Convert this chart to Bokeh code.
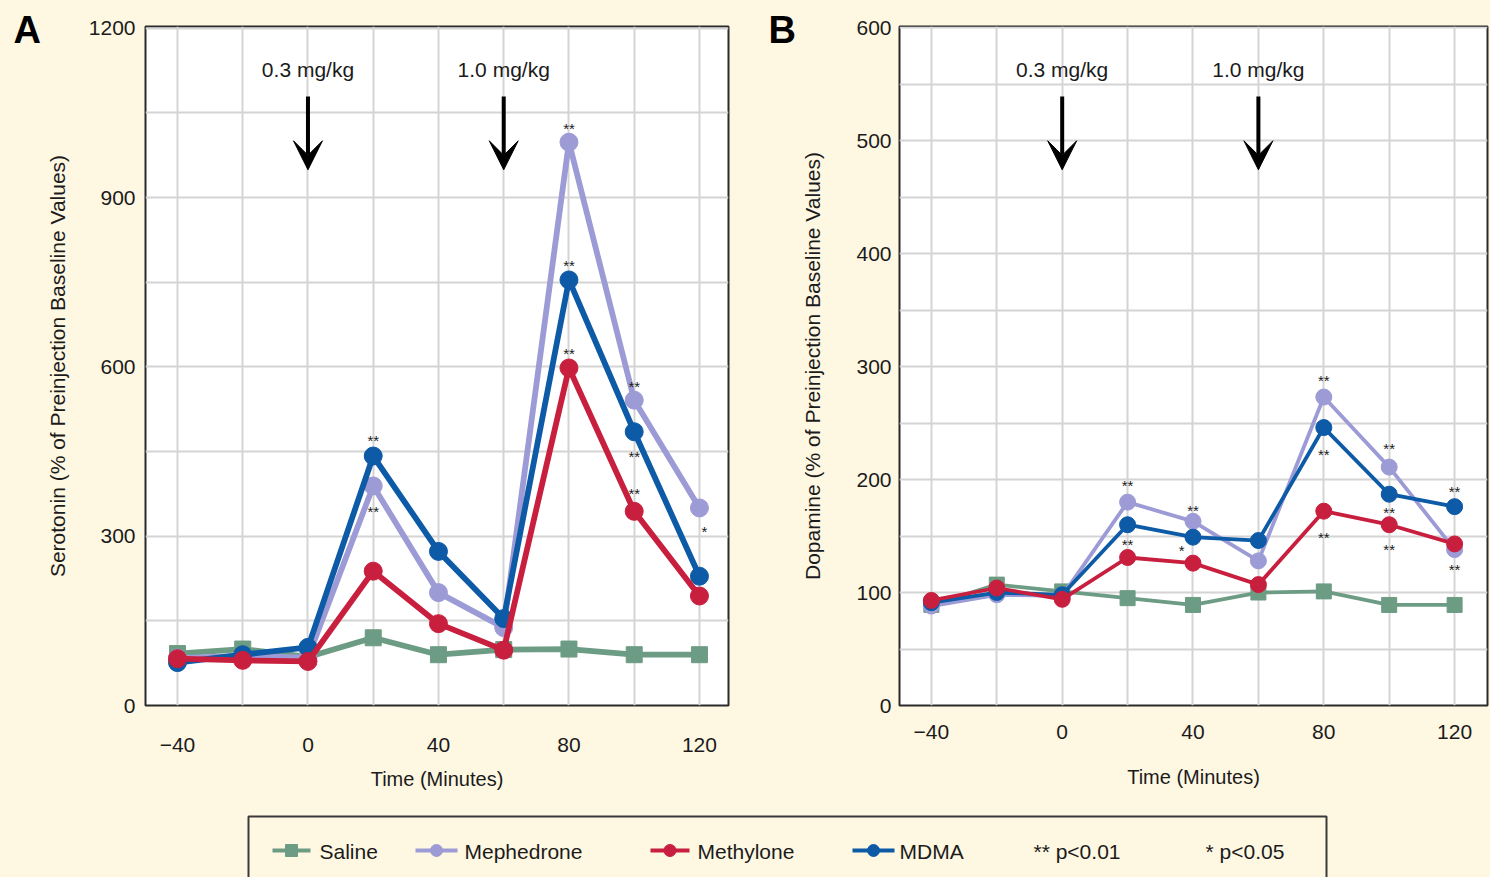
from bokeh.plotting import figure
from bokeh.models import Range1d, FixedTicker, Arrow, VeeHead, Spacer
from bokeh.layouts import column, row
from bokeh.embed import file_html
from bokeh.resources import INLINE
from bokeh.core.properties import value

# ---------------- data ----------------
times = [-40, -20, 0, 20, 40, 60, 80, 100, 120]
x_tick_labels = [-40, 0, 40, 80, 120]
x_grid_vals = [-40, -20, 0, 20, 40, 60, 80, 100, 120]

series_names = ["Saline", "Mephedrone", "Methylone", "MDMA"]
series_colors = ["#6D9C84", "#9D9BD6", "#C81F3F", "#0D5AA6"]
series_markers = ["square", "circle", "circle", "circle"]
draw_order = ["Saline", "Mephedrone", "MDMA", "Methylone"]

serotonin_saline = [92, 100, 86, 120, 90, 99, 100, 90, 90]
serotonin_mephedrone = [84, 88, 85, 389, 200, 138, 998, 541, 350]
serotonin_methylone = [83, 80, 78, 238, 145, 98, 598, 344, 194]
serotonin_mdma = [76, 90, 103, 442, 273, 154, 754, 485, 229]

dopamine_saline = [89, 107, 101, 95, 89, 100, 101, 89, 89]
dopamine_mephedrone = [88, 98, 97, 180, 163, 128, 273, 211, 138]
dopamine_methylone = [93, 104, 94, 131, 126, 107, 172, 160, 143]
dopamine_mdma = [91, 100, 98, 160, 149, 146, 246, 187, 176]

serotonin_y_ticks = [0, 300, 600, 900, 1200]
serotonin_y_grid = [0, 150, 300, 450, 600, 750, 900, 1050, 1200]
dopamine_y_ticks = [0, 100, 200, 300, 400, 500, 600]
dopamine_y_grid = [0, 50, 100, 150, 200, 250, 300, 350, 400, 450, 500, 550, 600]

dose_times = [0, 60]
dose_labels = ["0.3 mg/kg", "1.0 mg/kg"]

# significance marks (time, value, mark)
serotonin_star_x = [20, 20, 80, 80, 80, 100, 100, 100, 121.5]
serotonin_star_y = [476, 350, 1030, 786, 630, 572, 449, 382, 316]
serotonin_star_t = ["**", "**", "**", "**", "**", "**", "**", "**", "*"]

dopamine_star_x = [20, 20, 40, 36.5, 80, 80, 80, 100, 100, 100, 120, 120]
dopamine_star_y = [198, 146, 176, 141, 291, 226, 152, 231, 174, 142, 193, 124]
dopamine_star_t = ["**", "**", "**", "*", "**", "**", "**", "**", "**", "**", "**", "**"]

legend_extra = ["** p<0.01", "* p<0.05"]
panel_letters = ["A", "B"]

# ---------------- style ----------------
FONT = "Liberation Sans"
BG = "#FEF7E2"
TXT = "#1B1B1B"
ROW_H = 800
LET_H = 60


def letter_col(width, letter, lx, ly):
    f = figure(width=width, height=LET_H, x_range=Range1d(0, width), y_range=Range1d(LET_H, 0),
               output_backend="svg", toolbar_location=None, min_border=0, title=None)
    f.axis.visible = False
    f.grid.visible = False
    f.outline_line_color = None
    f.background_fill_color = BG
    f.border_fill_color = BG
    f.text(x=[lx], y=[ly], text=[letter], text_font=value(FONT), text_font_size="38px",
           text_font_style="bold", text_color="black", text_align="left", text_baseline="middle")
    sp = Spacer(width=width, height=ROW_H - LET_H, styles={"background-color": BG})
    return column(f, sp, spacing=0)


def make_panel(width, mb_left, mb_right, mb_top, mb_bottom, xr, yr, yticks, ygrid,
               ylabel, values, stars, lw, msize, ssize,
               x_stand, xlab_stand, y_stand, ylab_stand):
    p = figure(width=width, height=ROW_H, x_range=Range1d(*xr), y_range=Range1d(*yr),
               output_backend="svg", toolbar_location=None, title=None,
               min_border_left=mb_left, min_border_right=mb_right,
               min_border_top=mb_top, min_border_bottom=mb_bottom)
    p.background_fill_color = "white"
    p.border_fill_color = BG
    p.outline_line_color = "#2A2A2A"
    p.outline_line_width = 2

    p.xaxis.ticker = FixedTicker(ticks=x_tick_labels)
    p.yaxis.ticker = FixedTicker(ticks=yticks)
    p.xgrid.ticker = FixedTicker(ticks=x_grid_vals)
    p.ygrid.ticker = FixedTicker(ticks=ygrid)
    for g in (p.xgrid, p.ygrid):
        g.grid_line_color = "#D4D4D4"
        g.grid_line_width = 2

    for ax in (p.xaxis, p.yaxis):
        ax.axis_line_color = None
        ax.major_tick_line_color = None
        ax.minor_tick_line_color = None
        ax.major_tick_out = 0
        ax.major_tick_in = 0
        ax.minor_tick_out = 0
        ax.major_label_text_font = FONT
        ax.major_label_text_font_size = "21px"
        ax.major_label_text_color = TXT
        ax.axis_label_text_font = FONT
        ax.axis_label_text_font_style = "normal"
        ax.axis_label_text_color = TXT
    p.xaxis.major_label_standoff = x_stand
    p.yaxis.major_label_standoff = y_stand
    p.xaxis.axis_label = "Time (Minutes)"
    p.xaxis.axis_label_text_font_size = "20px"
    p.xaxis.axis_label_standoff = xlab_stand
    p.yaxis.axis_label = ylabel
    p.yaxis.axis_label_text_font_size = "21px"
    p.yaxis.axis_label_standoff = ylab_stand

    ymax = yr[1]
    # dose arrows
    for t in dose_times:
        p.add_layout(Arrow(end=VeeHead(size=29, fill_color="black", line_color="black", line_width=1),
                           x_start=t, y_start=0.897 * ymax, x_end=t, y_end=0.789 * ymax,
                           line_color="black", line_width=4))
    p.text(x=dose_times, y=[0.937 * ymax] * len(dose_times), text=dose_labels,
           text_font=value(FONT), text_font_size="21px", text_color=TXT,
           text_align="center", text_baseline="middle")

    # series
    for name in draw_order:
        i = series_names.index(name)
        col = series_colors[i]
        p.line(times, values[name], line_color=col, line_width=lw)
        size = ssize if series_markers[i] == "square" else msize
        p.scatter(times, values[name], marker=series_markers[i], size=size,
                  fill_color=col, line_color=col)

    sx, sy, st = stars
    p.text(x=sx, y=sy, text=st, text_font=value(FONT), text_font_size="15px",
           text_color=TXT, text_align="center", text_baseline="middle", y_offset=4)
    return p


lA = letter_col(42, panel_letters[0], 13, 29)
pA = make_panel(710, 101, 24, 26, 95, (-49.8, 128.9), (0, 1203),
                serotonin_y_ticks, serotonin_y_grid,
                "Serotonin (% of Preinjection Baseline Values)",
                {"Saline": serotonin_saline, "Mephedrone": serotonin_mephedrone,
                 "Methylone": serotonin_methylone, "MDMA": serotonin_mdma},
                (serotonin_star_x, serotonin_star_y, serotonin_star_t),
                5.8, 18, 16, 32, 13, 10, 17)

lB = letter_col(46, panel_letters[1], 16, 29)
pB = make_panel(692, 99, 3, 26, 95, (-49.75, 130.06), (0, 601),
                dopamine_y_ticks, dopamine_y_grid,
                "Dopamine (% of Preinjection Baseline Values)",
                {"Saline": dopamine_saline, "Mephedrone": dopamine_mephedrone,
                 "Methylone": dopamine_methylone, "MDMA": dopamine_mdma},
                (dopamine_star_x, dopamine_star_y, dopamine_star_t),
                3.8, 16, 15, 19, 24, 8, 29)

# ---------------- legend strip ----------------
LW, LH = 1490, 77
pL = figure(width=LW, height=LH, x_range=Range1d(0, LW), y_range=Range1d(LH, 0),
            output_backend="svg", toolbar_location=None, min_border=0, title=None)
pL.axis.visible = False
pL.grid.visible = False
pL.outline_line_color = None
pL.background_fill_color = BG
pL.border_fill_color = BG
pL.quad(left=[248], right=[1326], top=[16], bottom=[120], fill_color=BG,
        line_color="#3A3A3A", line_width=2)

item_line_x0 = [272, 415, 650, 852]
item_line_x1 = [310, 457, 689, 894]
item_text_x = [319, 464, 697, 899]
LY = 50
for i, name in enumerate(series_names):
    col = series_colors[i]
    pL.line([item_line_x0[i], item_line_x1[i]], [LY, LY], line_color=col, line_width=4)
    pL.scatter([(item_line_x0[i] + item_line_x1[i]) / 2], [LY], marker=series_markers[i],
               size=12, fill_color=col, line_color=col)
pL.text(x=item_text_x, y=[LY + 1] * 4, text=series_names, text_font=value(FONT),
        text_font_size="21px", text_color=TXT, text_align="left", text_baseline="middle")
pL.text(x=[1033, 1205], y=[LY + 1] * 2, text=legend_extra, text_font=value(FONT),
        text_font_size="21px", text_color=TXT, text_align="left", text_baseline="middle")

layout = column(row(lA, pA, lB, pB, spacing=0), pL, spacing=0)
layout.styles = {"background-color": BG}

open("out.html", "w").write(file_html(layout, INLINE))
